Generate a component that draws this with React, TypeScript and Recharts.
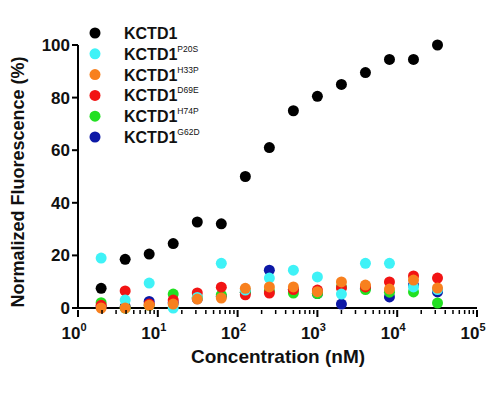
import { Scatter, ScatterChart, XAxis, YAxis } from 'recharts';

const concentrations = [1.95, 3.9, 7.8, 15.6, 31.25, 62.5, 125, 250, 500, 1000, 2000, 4000, 8000, 16000, 32000];

const kctd1 = [7.5, 18.5, 20.5, 24.5, 32.7, 32, 50, 61, 75, 80.5, 85, 89.5, 94.5, 94.5, 100];
const p20s = [19, 3, 9.5, 0, 4, 17, 6.8, 11.4, 14.4, 11.8, 5.3, 17, 17, 8, 7];
const h33p = [0, 0, 1, 1.5, 3.4, 3.8, 7.5, 8, 8, 6.2, 9.9, 8.7, 7.2, 10.6, 7.6];
const d69e = [1, 6.5, 1.5, 3, 5.7, 7.9, 5, 5.7, 7, 6.8, 7.6, 8, 9.9, 12.2, 11.4];
const h74p = [2, 0, 1, 5.3, 4, 5, 6, 6.5, 5.7, 5.5, 8, 7, 6, 6.1, 1.9];
const g62d = [0.5, 0.5, 2.5, 2, 3.5, 4.5, 6, 14.4, 7, 5.5, 1.5, 7.5, 4.2, 8.7, 6.1];

const yTicks = [0, 20, 40, 60, 80, 100];
const decades = [1, 10, 100, 1000, 10000, 100000];
const xTicks = decades.flatMap((d) => (d === 100000 ? [d] : [1, 2, 3, 4, 5, 6, 7, 8, 9].map((m) => m * d)));

const series = [
  { name: 'KCTD1', sup: '', color: '#000000', values: kctd1 },
  { name: 'KCTD1', sup: 'P20S', color: '#3ff2f7', values: p20s },
  { name: 'KCTD1', sup: 'H33P', color: '#f8801e', values: h33p },
  { name: 'KCTD1', sup: 'D69E', color: '#f21414', values: d69e },
  { name: 'KCTD1', sup: 'H74P', color: '#22e022', values: h74p },
  { name: 'KCTD1', sup: 'G62D', color: '#0c18a6', values: g62d },
];

// draw order: black first, orange last (sits on top like the original)
const drawOrder = [0, 5, 4, 3, 1, 2];

const toPoints = (values: number[]) => values.map((y, i) => ({ x: concentrations[i], y }));

function LogTick({ x, y, payload }: any) {
  const v = payload.value;
  const exp = Math.round(Math.log10(v));
  const major = Math.abs(Math.pow(10, exp) - v) < v * 1e-6;
  return (
    <g>
      <line x1={x} y1={y} x2={x} y2={y + (major ? 7 : 4)} stroke="#000" strokeWidth={major ? 2 : 1.5} />
      {major && (
        <text x={x - 4} y={y + 29} textAnchor="middle" fontSize={17} fontWeight={700} fill="#111">
          10
          <tspan fontSize={11} dy={-8}>
            {exp}
          </tspan>
        </text>
      )}
    </g>
  );
}

function Overlay() {
  return (
    <svg width={500} height={400} style={{ position: 'absolute', left: 0, top: 0, pointerEvents: 'none' }}>
      {series.map((s, i) => {
        const cy = 33 + i * 20.8;
        return (
          <g key={i}>
            <circle cx={95} cy={cy} r={5.5} fill={s.color} />
            <text x={124} y={cy + 6} fontSize={16} fontWeight={700} fill="#111">
              {s.name}
              {s.sup && (
                <tspan fontSize={8.5} fontWeight={400} dy={-8}>
                  {s.sup}
                </tspan>
              )}
            </text>
          </g>
        );
      })}
      <text x={278} y={363} textAnchor="middle" fontSize={19} fontWeight={700} fill="#111">
        Concentration (nM)
      </text>
      <text x={24} y={182} transform="rotate(-90 24 182)" textAnchor="middle" fontSize={18} fontWeight={700} fill="#111">
        Normalized Fluorescence (%)
      </text>
    </svg>
  );
}

export default function App() {
  return (
    <div style={{ position: 'absolute', left: 0, top: 0, width: 500, height: 400, background: '#fff', fontFamily: '"Liberation Sans", Arial, sans-serif' }}>
      <ScatterChart width={500} height={400} margin={{ top: 45, right: 23, bottom: 0, left: 0 }}>
        <XAxis
          type="number"
          dataKey="x"
          scale="log"
          domain={[1, 100000]}
          ticks={xTicks}
          interval={0}
          allowDataOverflow
          height={92}
          tickSize={0}
          tickLine={false}
          axisLine={{ stroke: '#000', strokeWidth: 2 }}
          tick={<LogTick />}
        />
        <YAxis
          type="number"
          dataKey="y"
          domain={[0, 100]}
          ticks={yTicks}
          width={78}
          tickSize={6}
          tickMargin={2}
          tickLine={{ stroke: '#000', strokeWidth: 2 }}
          axisLine={{ stroke: '#000', strokeWidth: 2 }}
          tick={{ fontSize: 17, fontWeight: 700, fill: '#111' }}
        />
        {drawOrder.map((idx) => {
          const s = series[idx];
          return (
            <Scatter
              key={idx}
              name={s.name + s.sup}
              data={toPoints(s.values)}
              fill={s.color}
              isAnimationActive={false}
              shape={(p: any) => <circle cx={p.cx} cy={p.cy} r={5.5} fill={s.color} />}
            />
          );
        })}
      </ScatterChart>
      <Overlay />
    </div>
  );
}
